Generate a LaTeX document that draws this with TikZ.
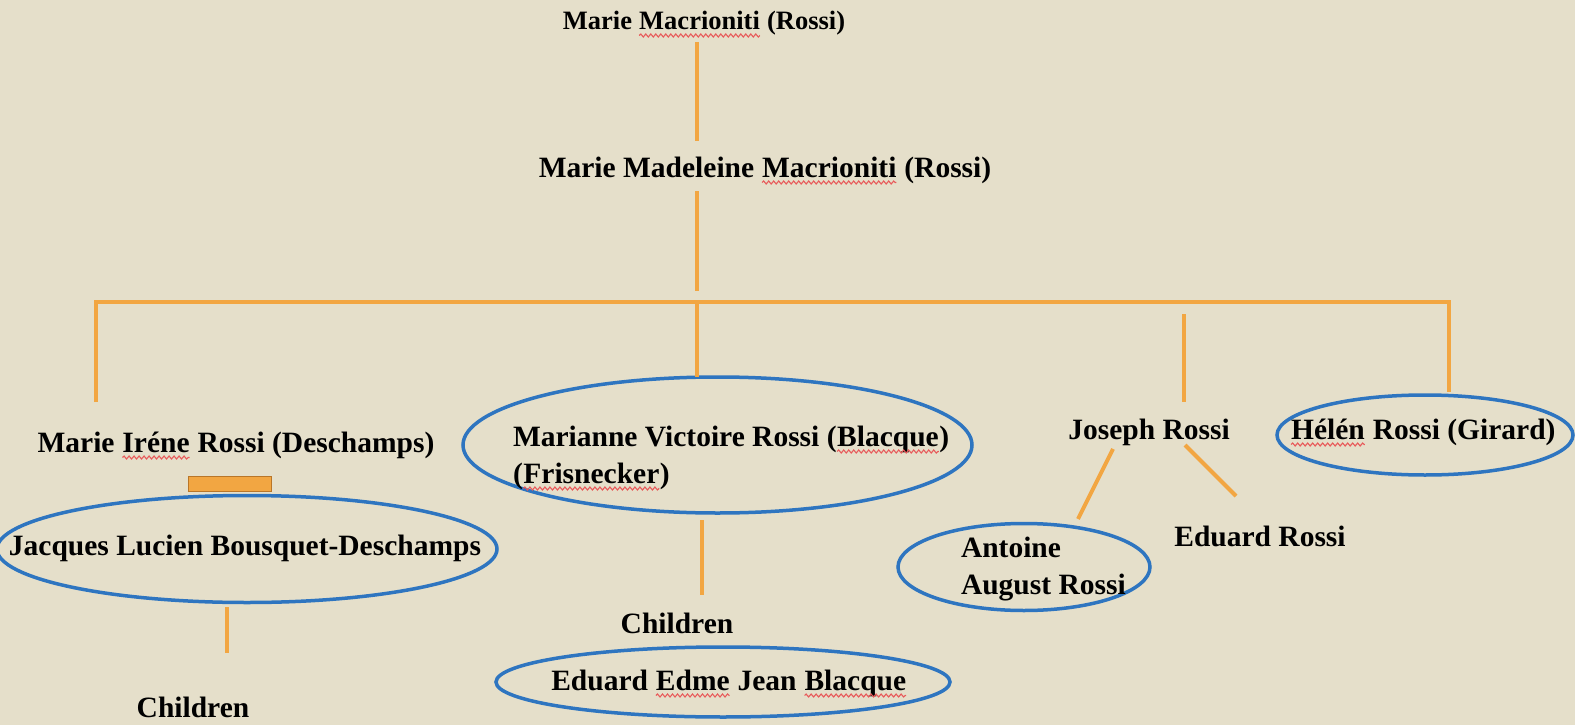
\documentclass[tikz,border=0pt]{standalone}
\usepackage{fontspec}
\setmainfont{Liberation Serif}
\usetikzlibrary{decorations.pathmorphing,shapes.geometric}
\definecolor{bg}{RGB}{229,223,202}
\definecolor{orn}{RGB}{242,166,66}
\definecolor{orndk}{RGB}{185,118,40}
\definecolor{blu}{RGB}{46,117,192}
\definecolor{sqc}{RGB}{232,90,90}
\newcommand\sq[1]{\tikz[baseline=(w.base)]{\node[inner sep=0pt,outer sep=0pt,draw=none,fill=none,shape=rectangle,anchor=base](w){#1};\draw[sqc,line width=1.1pt,decorate,decoration={snake,amplitude=1.5pt,segment length=5pt}]([yshift=-5.5pt]w.base west)--([yshift=-5.5pt]w.base east);}}
\tikzset{
  nm/.style={inner sep=0pt,outer sep=0pt,anchor=base,font=\fontsize{29.5}{37}\selectfont\bfseries,text=black},
  bell/.style={draw=blu,line width=3.5pt,ellipse,inner sep=0pt,fill=none},
  oline/.style={draw=orn,line width=4pt}
}
\begin{document}
\begin{tikzpicture}[x=1pt,y=-1pt]
\fill[bg] (0,0) rectangle (1575,725);
\useasboundingbox (0,0) rectangle (1575,725);

% ellipses
\node[bell,minimum width=500,minimum height=107] (jacE) at (247,549) {};
\node[bell,minimum width=509,minimum height=136] (marE) at (717.5,445) {};
\node[bell,minimum width=454,minimum height=70] (eduE) at (723,682) {};
\node[bell,minimum width=252,minimum height=87] (antE) at (1024,567) {};
\node[bell,minimum width=296,minimum height=80] (helE) at (1425,435) {};

% texts
\node[nm,font=\fontsize{26.5}{30}\selectfont\bfseries] (top) at (704,30) {Marie \sq{Macrioniti} (Rossi)};
\node[nm] (mid) at (765,177) {Marie Madeleine \sq{Macrioniti} (Rossi)};
\node[nm] (irene) at (236,452) {Marie \sq{Iréne} Rossi (Deschamps)};
\node[nm] (jacques) at (245,555) {Jacques Lucien Bousquet-Deschamps};
\node[nm,anchor=base west,align=left] (marianne) at (513,483) {Marianne Victoire Rossi (\sq{Blacque})\\(\sq{Frisnecker})};
\node[nm] (chl) at (193,717) {Children};
\node[nm] (chm) at (677,633) {Children};
\node[nm] (edme) at (729,690) {Eduard \sq{Edme} Jean \sq{Blacque}};
\node[nm] (joseph) at (1149,439) {Joseph Rossi};
\node[nm] (edr) at (1260,546) {Eduard Rossi};
\node[nm] (helen) at (1423,439) {\sq{Hélén} Rossi (Girard)};
\node[nm,anchor=base west,align=left] (antoine) at (961,594) {Antoine\\August Rossi};

% orange bar
\node[draw=orndk,fill=orn,line width=1pt,minimum width=83,minimum height=15,inner sep=0pt] (bar) at (229.5,483.5) {};

% connector ends
\coordinate (a1) at (697,42);
\coordinate (a2) at (697,141);
\coordinate (b1) at (697,191);
\coordinate (b2) at (697,291);
\coordinate (hl) at (96,302);
\coordinate (hm) at (697,302);
\coordinate (hr) at (1449,302);
\coordinate (dl) at (96,402);
\coordinate (dm) at (697,377);
\coordinate (dj1) at (1184,314);
\coordinate (dj2) at (1184,402);
\coordinate (dr) at (1449,392);
\coordinate (j1) at (227,607);
\coordinate (j2) at (227,653);
\coordinate (m1) at (702,520);
\coordinate (m2) at (702,595);
\coordinate (jl1) at (1113,449);
\coordinate (jl2) at (1078,519);
\coordinate (jr1) at (1185,445);
\coordinate (jr2) at (1236,496);

\draw[oline] (a1) -- (a2);
\draw[oline] (b1) -- (b2);
\draw[oline] (dl) -- (hl) -- (hr) -- (dr);
\draw[oline] (hm) -- (dm);
\draw[oline] (dj1) -- (dj2);
\draw[oline] (j1) -- (j2);
\draw[oline] (m1) -- (m2);
\draw[oline] (jl1) -- (jl2);
\draw[oline] (jr1) -- (jr2);
\end{tikzpicture}
\end{document}
